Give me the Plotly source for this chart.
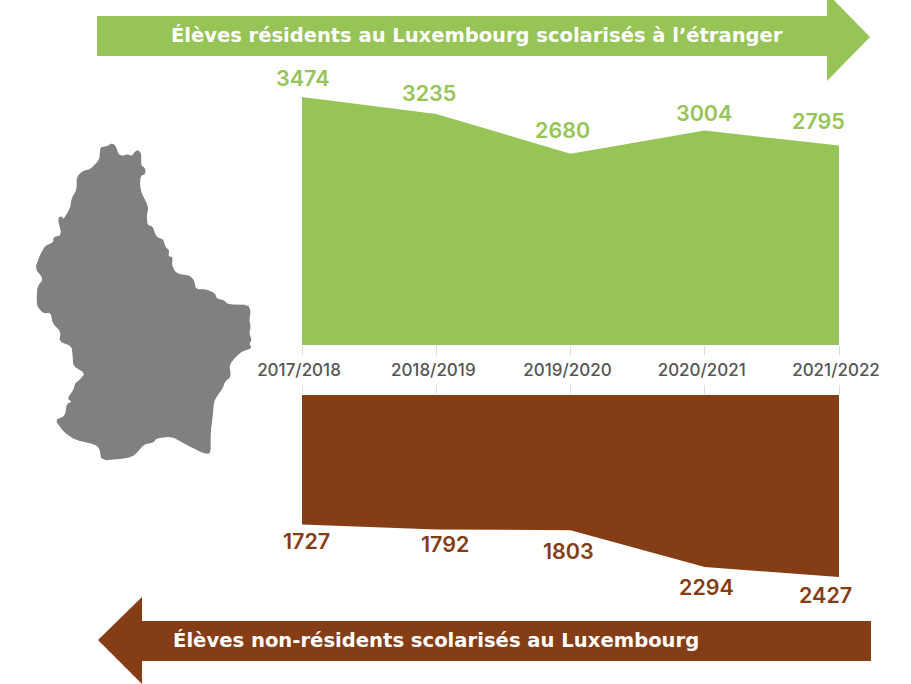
import plotly.graph_objects as go

W, H = 911, 684
school_years = ["2017/2018", "2018/2019", "2019/2020", "2020/2021", "2021/2022"]
residents_abroad = [3474, 3235, 2680, 3004, 2795]
non_residents = [1727, 1792, 1803, 2294, 2427]
top_title = "Élèves résidents au Luxembourg scolarisés à l’étranger"
bottom_title = "Élèves non-résidents scolarisés au Luxembourg"
top_label_shift = [(0, 19), (-7, 21), (-8, 24), (-1, 18), (-21, 24)]
bottom_label_shift = [(4, -16), (9, -15), (-2, -21), (2, -20), (-14, -18)]

GREEN = "#96C457"
BROWN = "#843D14"
GREY = "#808080"
FONT = "Inter"
TITLE_FONT = "DejaVu Sans"

map_zoom = [(240,60),(243,52),(262,48),(275,40),(285,45),(290,55),(295,72),(308,78),(322,72),(335,78),(345,65),(355,60),(364,72),(363,105),(376,115),(376,132),(362,138),(360,165),(365,190),(378,215),(385,235),(380,258),(383,285),(398,290),(405,310),(412,322),(430,328),(436,350),(448,362),(445,378),(458,382),(456,405),(465,425),(480,433),(508,436),(522,450),(528,478),(560,478),(585,490),(590,505),(610,510),(625,523),(685,525),(692,545),(688,570),(692,590),(688,610),(695,630),(688,640),(695,655),(665,665),(648,680),(628,705),(633,740),(615,755),(608,775),(590,800),(582,815),(578,860),(572,905),(572,970),(555,972),(500,945),(455,920),(410,925),(400,938),(372,943),(345,975),(320,985),(245,992),(238,955),(225,943),(165,930),(130,905),(105,870),(135,858),(140,822),(155,815),(142,805),(160,780),(165,760),(178,750),(195,730),(160,708),(158,680),(155,648),(118,635),(122,605),(98,580),(92,548),(70,550),(52,530),(50,510),(52,470),(70,447),(45,415),(60,375),(75,348),(100,337),(100,322),(125,315),(113,265),(125,258),(130,268),(150,235),(155,205),(170,178),(170,140),(190,122),(210,118),(238,90)]
green_arrow = [(97,16),(827,16),(827,-7),(870,37),(827,81),(827,56),(97,56)]
brown_arrow = [(871,621),(142,621),(142,597),(98,640),(142,684),(142,661),(871,661)]


def poly(points, color):
    path = "M " + " L ".join(f"{x/W:.5f},{1-y/H:.5f}" for x, y in points) + " Z"
    return dict(type="path", xref="paper", yref="paper", path=path,
                fillcolor=color, line=dict(width=0), layer="above")


def rounded(points):
    out = []
    n = len(points)
    for i in range(n):
        (x0, y0), (x1, y1) = points[i], points[(i + 1) % n]
        out.append((0.8 * x0 + 0.2 * x1, 0.8 * y0 + 0.2 * y1))
        out.append((0.2 * x0 + 0.8 * x1, 0.2 * y0 + 0.8 * y1))
    return out


map_px = [(20 + x / 3, 130 + y / 3) for x, y in rounded(map_zoom)]

fig = go.Figure()
fig.add_trace(go.Scatter(x=school_years, y=residents_abroad, mode="lines", fill="tozeroy",
                         fillcolor=GREEN, line=dict(width=0, color=GREEN), hoverinfo="skip"))
fig.add_trace(go.Scatter(x=school_years, y=non_residents, mode="lines", fill="tozeroy",
                         fillcolor=BROWN, line=dict(width=0, color=BROWN), hoverinfo="skip",
                         xaxis="x2", yaxis="y2"))

annotations = []
for xv, v, (dx, dy) in zip(school_years, residents_abroad, top_label_shift):
    annotations.append(dict(x=xv, y=v, xref="x", yref="y", text=str(v), showarrow=False,
                            xshift=dx, yshift=dy, font=dict(family=FONT, size=21.5, color=GREEN, weight=600)))
for xv, v, (dx, dy) in zip(school_years, non_residents, bottom_label_shift):
    annotations.append(dict(x=xv, y=v, xref="x2", yref="y2", text=str(v), showarrow=False,
                            xshift=dx, yshift=dy, font=dict(family=FONT, size=21.5, color=BROWN, weight=600)))
annotations.append(dict(x=477/W, y=1-35/H, xref="paper", yref="paper", yanchor="middle", xanchor="center",
                        text=f"<b>{top_title}</b>", showarrow=False,
                        font=dict(family=TITLE_FONT, size=19.5, color="white")))
annotations.append(dict(x=171/W, y=1-640/H, xref="paper", yref="paper", yanchor="middle", xanchor="left",
                        text=f"<b>{bottom_title}</b>", showarrow=False,
                        font=dict(family=TITLE_FONT, size=19.6, color="white")))

top_scale = 248 / 3474
bot_scale = 182 / 2427
y_top = 40
y_bot = 610

axis_x = dict(domain=[302/W, 839/W], range=[0, 4], type="category", categoryorder="array",
              categoryarray=school_years, showgrid=False, zeroline=False, showline=False,
              ticks="outside", ticklen=9, tickwidth=1, tickcolor="#DDDDDD")

fig.update_layout(
    width=W, height=H, margin=dict(l=0, r=0, t=0, b=0, pad=0, autoexpand=False),
    paper_bgcolor="white", plot_bgcolor="white", showlegend=False,
    xaxis=dict(**axis_x, anchor="y", side="bottom", showticklabels=True,
               tickfont=dict(family=FONT, size=17, color="#555555", weight=500),
               ticklabelstandoff=1, ticklabelshift=-3),
    yaxis=dict(domain=[1-345/H, 1-y_top/H], range=[0, (345-y_top)/top_scale], visible=False),
    xaxis2=dict(**axis_x, anchor="y2", side="top", showticklabels=False),
    yaxis2=dict(domain=[1-y_bot/H, 1-395/H], range=[(y_bot-395)/bot_scale, 0], visible=False),
    annotations=annotations,
    shapes=[poly(green_arrow, GREEN), poly(brown_arrow, BROWN), poly(map_px, GREY)],
)
fig.write_html("out.html", config=dict(displayModeBar=False),
               post_script="document.body.style.margin='0';")
